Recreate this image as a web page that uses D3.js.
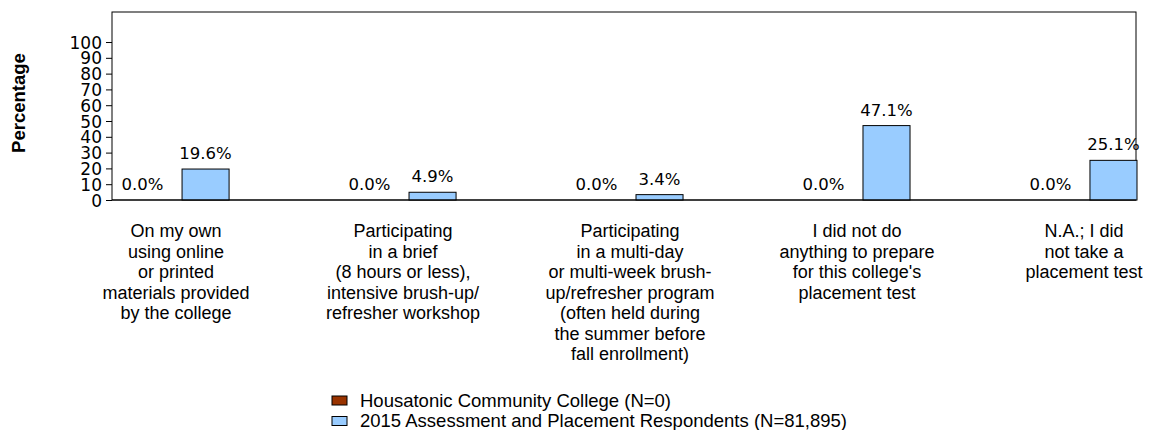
<!DOCTYPE html>
<html>
<head>
<meta charset="utf-8">
<script src="https://cdn.jsdelivr.net/npm/d3@7"></script>
<style>
  body { margin: 0; background: #fff; }
  svg { display: block; }
  .tick text { font-family: "DejaVu Sans", sans-serif; font-size: 17px; fill: #000; }
  .value-label { font-family: "DejaVu Sans", sans-serif; font-size: 16.5px; fill: #000; }
  .cat-label, .legend-label { font-family: "Liberation Sans", Arial, sans-serif; fill: #000; }
</style>
</head>
<body>
<svg width="1149" height="430"></svg>
<script>

// categories (line breaks as in the picture)
const categories = [
    "On my own\nusing online\nor printed\nmaterials provided\nby the college",
    "Participating\nin a brief\n(8 hours or less),\nintensive brush-up/\nrefresher workshop",
    "Participating\nin a multi-day\nor multi-week brush-\nup/refresher program\n(often held during\nthe summer before\nfall enrollment)",
    "I did not do\nanything to prepare\nfor this college's\nplacement test",
    "N.A.; I did\nnot take a\nplacement test"
];

const seriesNames = [
    "Housatonic Community College (N=0)",
    "2015 Assessment and Placement Respondents (N=81,895)"
];

const collegeValues = [0.0, 0.0, 0.0, 0.0, 0.0];
const respondentValues = [19.6, 4.9, 3.4, 47.1, 25.1];

const yTicks = [0, 10, 20, 30, 40, 50, 60, 70, 80, 90, 100];

const seriesColors = ["#993300", "#99CCFF"];


const svg = d3.select("svg");

const plot = { left: 112, right: 1136, top: 12, bottom: 200 };

const data = categories.map((c, i) => ({
    category: c,
    values: [collegeValues[i], respondentValues[i]]
}));

const x0 = d3.scaleBand()
    .domain(categories)
    .range([119, 1137])
    .paddingInner(0.515)
    .paddingOuter(0);

const x1 = d3.scaleBand()
    .domain([0, 1])
    .range([0, x0.bandwidth()])
    .paddingInner(0.254);

const y = d3.scaleLinear()
    .domain([0, 119])
    .range([plot.bottom, plot.top]);

// frame
svg.append("rect")
    .attr("x", plot.left)
    .attr("y", plot.top)
    .attr("width", plot.right - plot.left)
    .attr("height", plot.bottom - plot.top)
    .attr("fill", "none")
    .attr("stroke", "#000")
    .attr("stroke-width", 1);

// y axis
const yAxis = svg.append("g")
    .attr("transform", `translate(${plot.left},0)`)
    .call(d3.axisLeft(y).tickValues(yTicks).tickSize(6).tickPadding(4));
yAxis.select(".domain").remove();
yAxis.selectAll(".tick line").attr("stroke", "#000");
yAxis.selectAll(".tick text").attr("dy", "0.36em");

svg.append("text")
    .attr("transform", "translate(25,103) rotate(-90)")
    .attr("text-anchor", "middle")
    .style("font-family", "'Liberation Sans', Arial, sans-serif")
    .style("font-weight", "bold")
    .style("font-size", "18.5px")
    .text("Percentage");

// bars
const groups = svg.append("g")
    .selectAll("g")
    .data(data)
    .join("g")
    .attr("transform", d => `translate(${x0(d.category)},0)`);

groups.selectAll("rect")
    .data(d => d.values.map((v, k) => ({ k, v })))
    .join("rect")
    .attr("x", d => x1(d.k))
    .attr("width", x1.bandwidth())
    .attr("y", d => y(d.v))
    .attr("height", d => y(0) - y(d.v))
    .attr("fill", d => seriesColors[d.k])
    .attr("stroke", "#000")
    .attr("stroke-width", 1);

groups.selectAll(".value-label")
    .data(d => d.values.map((v, k) => ({ k, v })))
    .join("text")
    .attr("class", "value-label")
    .attr("x", d => x1(d.k) + x1.bandwidth() / 2)
    .attr("y", d => y(d.v) - 10)
    .attr("text-anchor", "middle")
    .text(d => d.v.toFixed(1) + "%");

// baseline
svg.append("line")
    .attr("x1", plot.left).attr("x2", plot.right)
    .attr("y1", y(0)).attr("y2", y(0))
    .attr("stroke", "#000");

// category labels
const catLabels = svg.append("g")
    .selectAll("text")
    .data(categories)
    .join("text")
    .attr("class", "cat-label")
    .attr("text-anchor", "middle")
    .style("font-size", "18px")
    .attr("x", d => x0(d) + x0.bandwidth() / 2 + 2)
    .attr("y", 237);

catLabels.selectAll("tspan")
    .data(d => d.split("\n"))
    .join("tspan")
    .attr("x", function () { return this.parentNode.getAttribute("x"); })
    .attr("dy", (d, i) => i === 0 ? 0 : 20.5)
    .text(d => d);

// legend
const legend = svg.append("g")
    .selectAll("g")
    .data(seriesNames)
    .join("g")
    .attr("transform", (d, i) => `translate(332,${396 + i * 20.5})`);

legend.append("rect")
    .attr("width", 15)
    .attr("height", 9)
    .attr("fill", (d, i) => seriesColors[i])
    .attr("stroke", "#000")
    .attr("stroke-width", 1);

legend.append("text")
    .attr("class", "legend-label")
    .attr("x", 28)
    .attr("y", 10.5)
    .style("font-size", "18.5px")
    .text(d => d);

</script>
</body>
</html>
